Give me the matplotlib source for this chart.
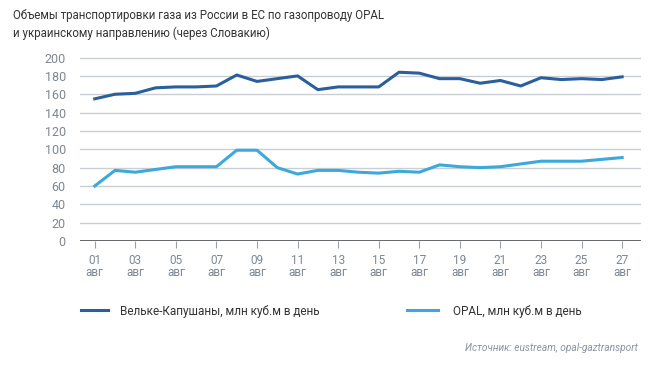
import matplotlib.pyplot as plt
from matplotlib.lines import Line2D

days = list(range(1, 28))
velke = [155, 160, 161, 167, 168, 168, 169, 181, 174, 177, 180, 165, 168, 168,
         168, 184, 183, 177, 177, 172, 175, 169, 178, 176, 177, 176, 179]
opal = [60, 77, 75, 78, 81, 81, 81, 99, 99, 80, 73, 77, 77, 75,
        74, 76, 75, 83, 81, 80, 81, 84, 87, 87, 87, 89, 91]
tick_days = list(range(1, 28, 2))
tick_labels = ["%02d\nавг" % d for d in tick_days]

title = "Объемы транспортировки газа из России в ЕС по газопроводу OPAL\nи украинскому направлению (через Словакию)"
name_velke = "Вельке-Капушаны, млн куб.м в день"
name_opal = "OPAL, млн куб.м в день"
source = "Источник: eustream, opal-gaztransport"

plt.rcParams['font.family'] = ['Liberation Sans Narrow', 'Roboto', 'DejaVu Sans']

dark = "#2b5f9c"
light = "#3da8dc"
grid = "#c9ced4"
txt = "#7d8791"

fig = plt.figure(figsize=(6.7, 3.66), dpi=100)
ax = fig.add_axes([0.119, 0.3415, 0.838, 0.5025])

for y in range(20, 201, 20):
    ax.axhline(y, color=grid, lw=1.0, zorder=1)
ax.plot(days, velke, color=dark, lw=2.2, zorder=3)
ax.plot(days, opal, color=light, lw=2.2, zorder=3)
ax.axhline(0, color="#555a60", lw=2.0, zorder=2)

ax.set_xlim(0.26, 27.94)
ax.set_ylim(0, 200.5)
ax.set_yticks(range(0, 201, 20))
ax.set_xticks(tick_days)
ax.set_xticklabels(tick_labels, linespacing=0.95)
ax.tick_params(axis='y', length=0, pad=10, labelsize=9, labelcolor=txt)
ax.tick_params(axis='x', length=5, color="#9aa1a8", pad=4, labelsize=8.5, labelcolor=txt)
for s in ax.spines.values():
    s.set_visible(False)

fig.text(0.02, 0.975, title, ha='left', va='top', fontsize=8.3, color="#333333", linespacing=1.4)

leg1 = fig.legend([Line2D([], [], color=dark, lw=2.2)], [name_velke],
                  loc='center left', bbox_to_anchor=(0.105, 0.15), frameon=False,
                  fontsize=8.5, handlelength=2.3, handletextpad=1.0, labelcolor="#333333")
leg2 = fig.legend([Line2D([], [], color=light, lw=2.2)], [name_opal],
                  loc='center left', bbox_to_anchor=(0.592, 0.15), frameon=False,
                  fontsize=8.5, handlelength=2.6, handletextpad=1.3, labelcolor="#333333")

fig.text(0.952, 0.035, source, ha='right', va='bottom', fontsize=7.3, color="#8a949e", style='italic')

fig.savefig("out.png", dpi=100)
